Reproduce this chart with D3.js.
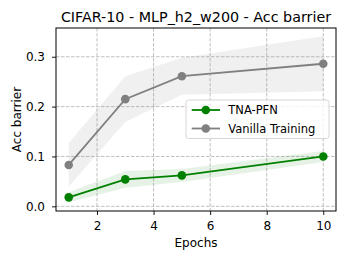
<!DOCTYPE html>
<html>
<head>
<meta charset="utf-8">
<script src="https://cdn.jsdelivr.net/npm/d3@7"></script>
<style>
  body { margin: 0; background: #fff; }
  text { font-family: "DejaVu Sans", sans-serif; fill: #000; }
</style>
</head>
<body>
<div id="chart"></div>
<script>
// Data
var epochs = [1, 3, 5, 10];
var tnaMean = [0.018, 0.054, 0.062, 0.100];
var tnaStd = [0.010, 0.017, 0.013, 0.011];
var vanillaMean = [0.083, 0.215, 0.261, 0.286];
var vanillaStd = [0.044, 0.046, 0.037, 0.055];
var xTicks = [2, 4, 6, 8, 10];
var yTicks = [0.0, 0.1, 0.2, 0.3];

var width = 349,
  height = 259;
var margin = { left: 56, top: 28, right: 13, bottom: 48 };
var innerW = width - margin.left - margin.right;
var innerH = height - margin.top - margin.bottom;

var x = d3.scaleLinear().domain([0.55, 10.45]).range([0, innerW]);
var y = d3.scaleLinear().domain([-0.0094, 0.3577]).range([innerH, 0]);

var svg = d3
  .select("#chart")
  .append("svg")
  .attr("width", width)
  .attr("height", height);

var g = svg
  .append("g")
  .attr("transform", "translate(" + margin.left + "," + margin.top + ")");

// grid
g.selectAll(".gx")
  .data(xTicks)
  .enter()
  .append("line")
  .attr("x1", d => x(d))
  .attr("x2", d => x(d))
  .attr("y1", 0)
  .attr("y2", innerH)
  .attr("stroke", "#b0b0b0")
  .attr("stroke-width", 0.8)
  .attr("stroke-dasharray", "3.5,1.5");

g.selectAll(".gy")
  .data(yTicks)
  .enter()
  .append("line")
  .attr("x1", 0)
  .attr("x2", innerW)
  .attr("y1", d => y(d))
  .attr("y2", d => y(d))
  .attr("stroke", "#b0b0b0")
  .attr("stroke-width", 0.8)
  .attr("stroke-dasharray", "3.5,1.5");

function series(mean, std) {
  return epochs.map(function (e, i) {
    return { x: e, m: mean[i], s: std[i] };
  });
}
var tna = series(tnaMean, tnaStd);
var vanilla = series(vanillaMean, vanillaStd);

var area = d3
  .area()
  .x(d => x(d.x))
  .y0(d => y(d.m - d.s))
  .y1(d => y(d.m + d.s));
var line = d3
  .line()
  .x(d => x(d.x))
  .y(d => y(d.m));

// bands
g.append("path").attr("d", area(vanilla)).attr("fill", "gray").attr("fill-opacity", 0.12);
g.append("path").attr("d", area(tna)).attr("fill", "green").attr("fill-opacity", 0.1);

// lines + markers
[
  [vanilla, "gray"],
  [tna, "green"],
].forEach(function (s) {
  g.append("path")
    .attr("d", line(s[0]))
    .attr("fill", "none")
    .attr("stroke", s[1])
    .attr("stroke-width", 1.8);
  g.selectAll(null)
    .data(s[0])
    .enter()
    .append("circle")
    .attr("cx", d => x(d.x))
    .attr("cy", d => y(d.m))
    .attr("r", 4.3)
    .attr("fill", s[1]);
});

// frame
g.append("rect")
  .attr("width", innerW)
  .attr("height", innerH)
  .attr("fill", "none")
  .attr("stroke", "#000")
  .attr("stroke-width", 1);

// axes
var xAxis = g
  .append("g")
  .attr("transform", "translate(0," + innerH + ")")
  .call(d3.axisBottom(x).tickValues(xTicks).tickSize(4).tickPadding(6));
var yAxis = g
  .append("g")
  .call(
    d3.axisLeft(y).tickValues(yTicks).tickFormat(d3.format(".1f")).tickSize(4).tickPadding(7)
  );
[xAxis, yAxis].forEach(function (a) {
  a.select(".domain").remove();
  a.selectAll("text").style("font-size", "12px").style("font-family", "DejaVu Sans");
  a.selectAll("line").attr("stroke", "#000").attr("stroke-width", 0.9);
});

// labels
svg.append("text")
  .attr("x", margin.left + innerW / 2)
  .attr("y", 21.5)
  .attr("text-anchor", "middle")
  .style("font-size", "14.3px")
  .text("CIFAR-10 - MLP_h2_w200 - Acc barrier");

svg.append("text")
  .attr("x", margin.left + innerW / 2)
  .attr("y", 246.5)
  .attr("text-anchor", "middle")
  .style("font-size", "12px")
  .text("Epochs");

svg.append("text")
  .attr("transform", "translate(20.5," + (margin.top + innerH / 2) + ") rotate(-90)")
  .attr("text-anchor", "middle")
  .style("font-size", "12px")
  .text("Acc barrier");

// legend
var names = ["TNA-PFN", "Vanilla Training"];
var colors = ["green", "gray"];
var leg = svg.append("g").attr("transform", "translate(186,100)");
leg.append("rect")
  .attr("width", 143)
  .attr("height", 38.5)
  .attr("rx", 2.5)
  .attr("fill", "#fff")
  .attr("fill-opacity", 0.8)
  .attr("stroke", "#cccccc")
  .attr("stroke-width", 0.8);
names.forEach(function (n, i) {
  var cy = 10 + i * 18.5;
  leg.append("line")
    .attr("x1", 5.7).attr("x2", 34)
    .attr("y1", cy).attr("y2", cy)
    .attr("stroke", colors[i])
    .attr("stroke-width", 1.8);
  leg.append("circle").attr("cx", 19.8).attr("cy", cy).attr("r", 4.3).attr("fill", colors[i]);
  leg.append("text")
    .attr("x", 42.3)
    .attr("y", cy + 4.1)
    .style("font-size", "11.5px")
    .text(n);
});
</script>
</body>
</html>
